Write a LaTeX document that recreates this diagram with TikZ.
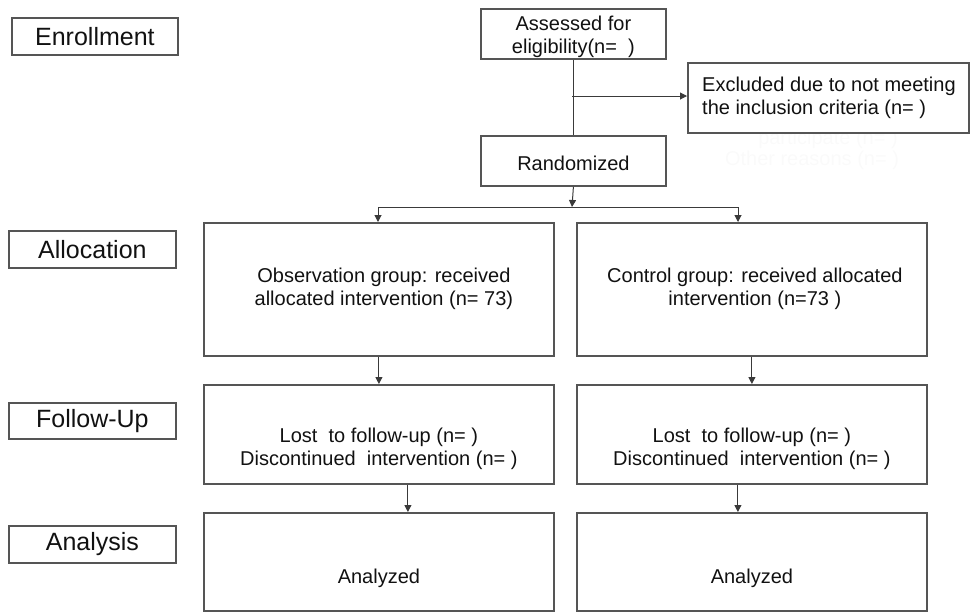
\documentclass[tikz,border=0pt]{standalone}
\usepackage{fontspec}
\setmainfont{Liberation Sans}
\usetikzlibrary{arrows.meta}
\definecolor{boxc}{HTML}{555555}
\definecolor{linec}{HTML}{3A3A3A}
\definecolor{txt}{HTML}{111111}
\definecolor{ghost}{HTML}{FAFAFA}
\begin{document}
\begin{tikzpicture}[x=1pt,y=-1pt,
  box/.style={draw=boxc, line width=1.8pt, inner sep=0pt, anchor=north west},
  stage/.style={box, text=txt, font=\fontsize{25}{28}\selectfont},
  body/.style={font=\fontsize{20}{23}\selectfont, align=center, text=txt, inner sep=0pt},
  ghosttxt/.style={font=\fontsize{20}{23}\selectfont, text=ghost, inner sep=0pt},
  conn/.style={draw=linec, line width=1pt},
  arr/.style={conn, -{Triangle[length=7pt,width=7pt]}}]
\useasboundingbox (0,0) rectangle (972,614);

% stage labels
\node[stage, minimum width=166pt, minimum height=37pt] (enr) at (11,17) {Enrollment};
\node[stage, minimum width=167pt, minimum height=37pt] (alloc) at (8,230) {Allocation};
\node[stage, minimum width=167pt, minimum height=36pt] (fol) at (8,402) {Follow-Up};
\node[stage, minimum width=167pt, minimum height=37pt] (ana) at (8,525) {Analysis};

% top boxes
\node[box, minimum width=185pt, minimum height=50pt] (ass) at (480,8) {};
\node[body] (asst) at ([yshift=-3pt]ass.center) {Assessed for\\eligibility(n=\ \ )};
\node[box, minimum width=185pt, minimum height=50pt] (rand) at (480,135) {};
\node[body] (randt) at ([yshift=-2pt]rand.center) {Randomized};

% faint hidden text under excluded box
\node[ghosttxt] (gh1) at (828,139) {participate (n= )};
\node[ghosttxt] (gh2) at (812,160) {Other reasons (n= )};

\node[box, fill=white, minimum width=281pt, minimum height=70pt] (exc) at (687,62) {};
\node[body, align=left, anchor=west] (exct) at (702,98) {Excluded due to not meeting\\the inclusion criteria (n= )};

% allocation boxes
\node[box, minimum width=350pt, minimum height=133pt] (obs) at (203,222) {};
\node[body] (obst) at ([xshift=5pt,yshift=1pt]obs.center) {Observation group: received\\allocated intervention (n= 73)};
\node[box, minimum width=350pt, minimum height=133pt] (ctl) at (576,222) {};
\node[body] (ctlt) at ([xshift=3pt,yshift=1pt]ctl.center) {Control group: received allocated\\intervention (n=73 )};

% follow-up boxes
\node[box, minimum width=350pt, minimum height=99pt] (fuL) at (203,384) {};
\node[body] (fuLt) at ([yshift=-14pt]fuL.center) {Lost\ \ to follow-up (n= )\\Discontinued\ \ intervention (n= )};
\node[box, minimum width=350pt, minimum height=99pt] (fuR) at (576,384) {};
\node[body] (fuRt) at ([yshift=-14pt]fuR.center) {Lost\ \ to follow-up (n= )\\Discontinued\ \ intervention (n= )};

% analysis boxes
\node[box, minimum width=350pt, minimum height=98pt] (anL) at (203,512) {};
\node[body] (anLt) at ([yshift=-16pt]anL.center) {Analyzed};
\node[box, minimum width=350pt, minimum height=98pt] (anR) at (576,512) {};
\node[body] (anRt) at ([yshift=-16pt]anR.center) {Analyzed};

% connectors
\coordinate (ex) at (572,96);
\coordinate (br) at (572,207);
\coordinate (bl) at (378,207);
\coordinate (bR) at (738,207);
\draw[conn] (ass.south) -- (rand.north);
\draw[arr] (ex) -- (exc.west |- ex);
\draw[arr] (rand.south) -- (br);
\draw[conn] (bl) -- (bR);
\draw[arr] (bl) -- (bl |- obs.north);
\draw[arr] (bR) -- (bR |- ctl.north);
\draw[arr] (obs.south) -- (fuL.north);
\draw[arr] (ctl.south) -- (fuR.north);
\draw[arr] ([xshift=29pt]fuL.south) -- ([xshift=29pt]anL.north);
\draw[arr] ([xshift=-14pt]fuR.south) -- ([xshift=-14pt]anR.north);
\end{tikzpicture}
\end{document}
